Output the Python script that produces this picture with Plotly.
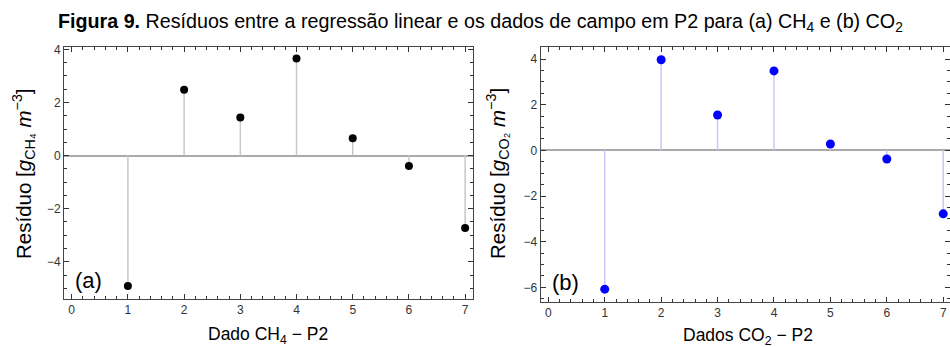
import plotly.graph_objects as go

# Data
dados = [1, 2, 3, 4, 5, 6, 7]
residuo_ch4 = [-4.91, 2.48, 1.43, 3.65, 0.65, -0.39, -2.73]
residuo_co2 = [-6.08, 3.97, 1.55, 3.48, 0.28, -0.38, -2.78]
x_ticks = [0, 1, 2, 3, 4, 5, 6, 7]
y_ticks_ch4 = [-4, -2, 0, 2, 4]
y_ticks_co2 = [-6, -4, -2, 0, 2, 4]

FONT = "Liberation Sans, Arial, sans-serif"
W, H = 950, 347


def px(xp):
    return xp / W


def py(yp):
    return 1 - yp / H


def stems(xs, ys):
    sx, sy = [], []
    for a, b in zip(xs, ys):
        sx += [a, a, None]
        sy += [0, b, None]
    return sx, sy


fig = go.Figure()

sx, sy = stems(dados, residuo_ch4)
fig.add_trace(go.Scatter(x=sx, y=sy, mode="lines", line=dict(color="#c8c8c8", width=1.5),
                         xaxis="x", yaxis="y", showlegend=False, hoverinfo="skip"))
fig.add_trace(go.Scatter(x=dados, y=residuo_ch4, mode="markers",
                         marker=dict(color="black", size=8), xaxis="x", yaxis="y", showlegend=False))

sx, sy = stems(dados, residuo_co2)
fig.add_trace(go.Scatter(x=sx, y=sy, mode="lines", line=dict(color="#c8c8ff", width=1.5),
                         xaxis="x2", yaxis="y2", showlegend=False, hoverinfo="skip"))
fig.add_trace(go.Scatter(x=dados, y=residuo_co2, mode="markers", cliponaxis=False,
                         marker=dict(color="#0000ff", size=9), xaxis="x2", yaxis="y2", showlegend=False))

# Plot area pixel boxes (page pixels)
L1, R1, T1, B1 = 64, 473, 47, 299
L2, R2, T2, B2 = 540.7, 950, 46.7, 301.7

tickfont = dict(family=FONT, size=12, color="#333333")
common_x = dict(tickmode="array", tickvals=x_ticks, ticks="inside", ticklen=5, tickwidth=1,
                tickcolor="#333", showline=True, linecolor="#444", linewidth=1, mirror="allticks",
                showgrid=False, zeroline=False, tickfont=tickfont, automargin=False,
                minor=dict(dtick=0.2, ticks="inside", ticklen=3, tickcolor="#333", showgrid=False))
common_y = dict(ticks="inside", ticklen=5, tickwidth=1, tickcolor="#333", showline=True,
                linecolor="#444", linewidth=1, mirror="allticks", showgrid=False, automargin=False,
                zeroline=True, zerolinecolor="#aaaaaa", zerolinewidth=1.5, tickfont=tickfont,
                minor=dict(dtick=0.5, ticks="inside", ticklen=3, tickcolor="#333", showgrid=False))

fig.update_layout(
    width=W, height=H,
    margin=dict(l=0, r=0, t=0, b=0, autoexpand=False),
    paper_bgcolor="white", plot_bgcolor="white",
    font=dict(family=FONT),
    xaxis=dict(domain=[px(L1), px(R1)], range=[-0.137, 7.14], anchor="y", **common_x),
    yaxis=dict(domain=[py(B1), py(T1)], range=[-5.40, 4.087], anchor="x",
               tickvals=y_ticks_ch4, tickmode="array", **common_y),
    xaxis2=dict(domain=[px(L2), 1.0], range=[-0.135, 7.12], anchor="y2", **common_x),
    yaxis2=dict(domain=[py(B2), py(T2)], range=[-6.63, 4.54], anchor="x2",
                tickvals=y_ticks_co2, tickmode="array", **common_y),
)

ann = [
    dict(text="<b>Figura 9.</b> Resíduos entre a regressão linear e os dados de campo em P2 para (a) CH<sub>4</sub> e (b) CO<sub>2</sub>",
         x=px(480), y=py(22), xref="paper", yref="paper", showarrow=False,
         font=dict(family=FONT, size=19.7, color="black"), xanchor="center", yanchor="middle"),
    dict(text="Resíduo [<i>g</i><sub>CH₄</sub> <i>m</i><sup>−3</sup>]", textangle=-90,
         x=px(23), y=py(174), xref="paper", yref="paper", showarrow=False,
         font=dict(family=FONT, size=20.5, color="black"), xanchor="center", yanchor="middle"),
    dict(text="Resíduo [<i>g</i><sub>CO₂</sub> <i>m</i><sup>−3</sup>]", textangle=-90,
         x=px(497), y=py(174), xref="paper", yref="paper", showarrow=False,
         font=dict(family=FONT, size=20.5, color="black"), xanchor="center", yanchor="middle"),
    dict(text="Dado CH<sub>4</sub> − P2", x=px(268), y=py(335), xref="paper", yref="paper",
         showarrow=False, font=dict(family=FONT, size=17.5, color="black"),
         xanchor="center", yanchor="middle"),
    dict(text="Dados CO<sub>2</sub> − P2", x=px(747.5), y=py(336.5), xref="paper", yref="paper",
         showarrow=False, font=dict(family=FONT, size=17.5, color="black"),
         xanchor="center", yanchor="middle"),
    dict(text="(a)", x=0.29, y=-4.71, xref="x", yref="y", showarrow=False,
         font=dict(family=FONT, size=22, color="black"), xanchor="center", yanchor="middle"),
    dict(text="(b)", x=0.30, y=-5.78, xref="x2", yref="y2", showarrow=False,
         font=dict(family=FONT, size=22, color="black"), xanchor="center", yanchor="middle"),
]
fig.update_layout(annotations=ann)

fig.write_html(
    "out.html",
    config={"displayModeBar": False},
    post_script="document.body.style.margin='0';document.body.style.overflow='hidden';",
)
